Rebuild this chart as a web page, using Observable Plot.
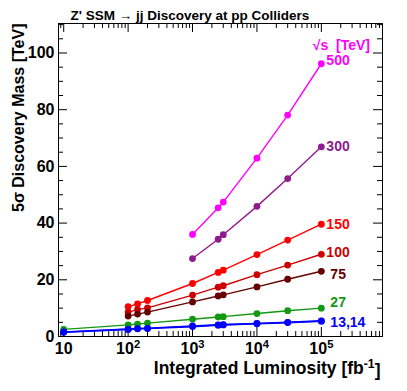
<!DOCTYPE html>
<html>
<head>
<meta charset="utf-8">
<script src="https://cdn.jsdelivr.net/npm/d3@7"></script>
<script src="https://cdn.jsdelivr.net/npm/@observablehq/plot@0.6"></script>
<style>
  html, body { margin: 0; padding: 0; background: white; }
  #chart svg { display: block; }
</style>
</head>
<body>
<div id="chart"></div>
<script>
// ---- data ----
const lumi = [10, 100, 140, 200, 1000, 2500, 3000, 10000, 30000, 100000];
const seriesNames = ["500", "300", "150", "100", "75", "27", "14", "13"];
const seriesColors = ["#ff00ff", "#8e1c8c", "#ff0000", "#cc0000", "#660000", "#129912", "#0000ff", "#0000ff"];
const mass500 = [36.0, 45.4, 47.4, 62.9, 78.1, 96.2];
const mass300 = [27.5, 34.3, 35.9, 45.9, 55.7, 66.9];
const mass150 = [10.5, 11.5, 12.7, 18.7, 22.6, 23.4, 28.9, 34.0, 39.6];
const mass100 = [8.6, 9.5, 10.1, 14.6, 17.4, 17.9, 21.8, 25.2, 29.0];
const mass75 = [7.2, 7.9, 8.6, 12.2, 14.3, 14.7, 17.5, 20.2, 23.0];
const mass27 = [2.5, 4.1, 4.4, 4.7, 6.1, 6.9, 7.0, 8.1, 9.1, 10.0];
const mass14 = [1.6, 2.6, 2.8, 2.9, 3.7, 4.1, 4.2, 4.6, 5.0, 5.5];
const mass13 = [1.5, 2.5, 2.7, 2.8, 3.5, 4.0, 4.1, 4.5, 4.9, 5.4];
const seriesLabels = ["500", "300", "150", "100", "75", "27", "13,14"];
const labelSeries = ["500", "300", "150", "100", "75", "27", "14"];
const yMajor = [0, 20, 40, 60, 80, 100];
const xMajor = [10, 100, 1000, 10000, 100000];
const xTickLabels = ["10", "10^{2}", "10^{3}", "10^{4}", "10^{5}"];
const title = "Z' SSM \u2192 jj Discovery at pp Colliders";
const yTitle = "5\u03c3 Discovery Mass [TeV]";
const xTitle = "Integrated Luminosity [fb^{-1}]";
const legendTitle = "\u221as  [TeV]";

// ---- build table ----
const massBySeries = {"500": mass500, "300": mass300, "150": mass150, "100": mass100,
  "75": mass75, "27": mass27, "14": mass14, "13": mass13};
const rows = [];
for (const s of seriesNames) {
  const m = massBySeries[s];
  const l = lumi.slice(lumi.length - m.length);
  m.forEach((v, i) => rows.push({series: s, lumi: l[i], mass: v}));
}
const lastOf = s => rows.filter(r => r.series === s).at(-1);

// ---- geometry / style ----
const W = 407, H = 391, mL = 58, mR = 25, mT = 23, mB = 55;
const fW = W - mL - mR, fH = H - mT - mB;
const font = "'Liberation Sans', Arial, Helvetica, sans-serif";
const yMinor = d3.range(5, 111, 5).filter(v => v % 20 !== 0);
const xMinor = [];
for (const dec of [1, 10, 100, 1000, 10000, 100000])
  for (let k = 2; k <= 9; k++) { const v = k * dec; if (v > 8.3 && v < 8.9e5) xMinor.push(v); }

const labelDy = {"500": -3, "300": 0, "150": 0, "100": -2, "75": 3, "27": -6, "14": 2};
const labelDx = {"500": 5, "300": 5, "150": 5, "100": 5, "75": 9, "27": 9, "14": 9};

const labelMarks = labelSeries.map((s, i) => Plot.text([lastOf(s)], {
  x: "lumi", y: "mass", text: () => seriesLabels[i], fill: "series",
  textAnchor: "start", dx: labelDx[s], dy: labelDy[s], fontSize: 14, fontWeight: "bold"
}));

const chart = Plot.plot({
  width: W, height: H, marginLeft: mL, marginRight: mR, marginTop: mT, marginBottom: mB,
  style: {fontFamily: font, background: "white", overflow: "visible"},
  x: {type: "log", domain: [8.3, 8.9e5], axis: null},
  y: {domain: [0, 110.4], axis: null},
  color: {domain: seriesNames, range: seriesColors},
  marks: [
    // ticks (inside the frame, all four sides)
    Plot.tickY(yMajor, {y: d => d, insetRight: fW - 9, stroke: "black"}),
    Plot.tickY(yMinor, {y: d => d, insetRight: fW - 5, stroke: "black"}),
    Plot.tickY(yMajor, {y: d => d, insetLeft: fW - 9, stroke: "black"}),
    Plot.tickY(yMinor, {y: d => d, insetLeft: fW - 5, stroke: "black"}),
    Plot.tickX(xMajor, {x: d => d, insetTop: fH - 9, stroke: "black"}),
    Plot.tickX(xMinor, {x: d => d, insetTop: fH - 5, stroke: "black"}),
    Plot.tickX(xMajor, {x: d => d, insetBottom: fH - 9, stroke: "black"}),
    Plot.tickX(xMinor, {x: d => d, insetBottom: fH - 5, stroke: "black"}),
    Plot.frame({stroke: "black", strokeWidth: 1}),
    // tick labels
    Plot.text(yMajor, {y: d => d, text: d => String(d), frameAnchor: "left", textAnchor: "end",
      dx: -4, fontSize: 16, fontWeight: "bold", fill: "black"}),
    Plot.text(xMajor, {x: d => d, text: (d, i) => xTickLabels[i], frameAnchor: "bottom",
      textAnchor: "middle", dy: 17, fontSize: 16, fontWeight: "bold", fill: "black"}),
    // titles
    Plot.text([title], {frameAnchor: "top-left", textAnchor: "start", dx: 12, dy: -13,
      fontSize: 13.5, fontWeight: "bold", fill: "black"}),
    Plot.text([yTitle], {frameAnchor: "top-left", textAnchor: "end", rotate: -90, dx: -46, dy: 0,
      fontSize: 16, fontWeight: "bold", fill: "black"}),
    Plot.text([xTitle], {frameAnchor: "bottom-right", textAnchor: "end", dx: -2, dy: 37,
      fontSize: 17.5, fontWeight: "bold", fill: "black"}),
    // data
    Plot.line(rows.filter(r => r.series !== "13" && r.series !== "14"),
      {x: "lumi", y: "mass", z: "series", stroke: "series", strokeWidth: 1.4}),
    Plot.line(rows.filter(r => r.series === "13" || r.series === "14"),
      {x: "lumi", y: "mass", z: "series", stroke: "series", strokeWidth: 1.6}),
    Plot.dot(rows, {x: "lumi", y: "mass", fill: "series", r: 3.4}),
    ...labelMarks,
    Plot.text([lastOf("500")], {x: "lumi", y: "mass", text: () => legendTitle, fill: "series",
      textAnchor: "middle", dx: 20, dy: -18, fontSize: 14, fontWeight: "bold"})
  ]
});

// convert ^{...} into superscript tspans (text stays real text)
chart.querySelectorAll("text").forEach(t => {
  const s = t.textContent;
  if (!s.includes("^{")) return;
  const m = s.match(/^(.*)\^\{([^}]*)\}(.*)$/);
  if (!m) return;
  while (t.firstChild) t.removeChild(t.firstChild);
  const ns = "http://www.w3.org/2000/svg";
  t.appendChild(document.createTextNode(m[1]));
  const sup = document.createElementNS(ns, "tspan");
  sup.setAttribute("dy", "-0.45em");
  sup.setAttribute("font-size", "70%");
  sup.textContent = m[2];
  t.appendChild(sup);
  if (m[3]) {
    const rest = document.createElementNS(ns, "tspan");
    rest.setAttribute("dy", "0.45em");
    rest.textContent = m[3];
    t.appendChild(rest);
  }
});

document.getElementById("chart").appendChild(chart);
</script>
</body>
</html>
